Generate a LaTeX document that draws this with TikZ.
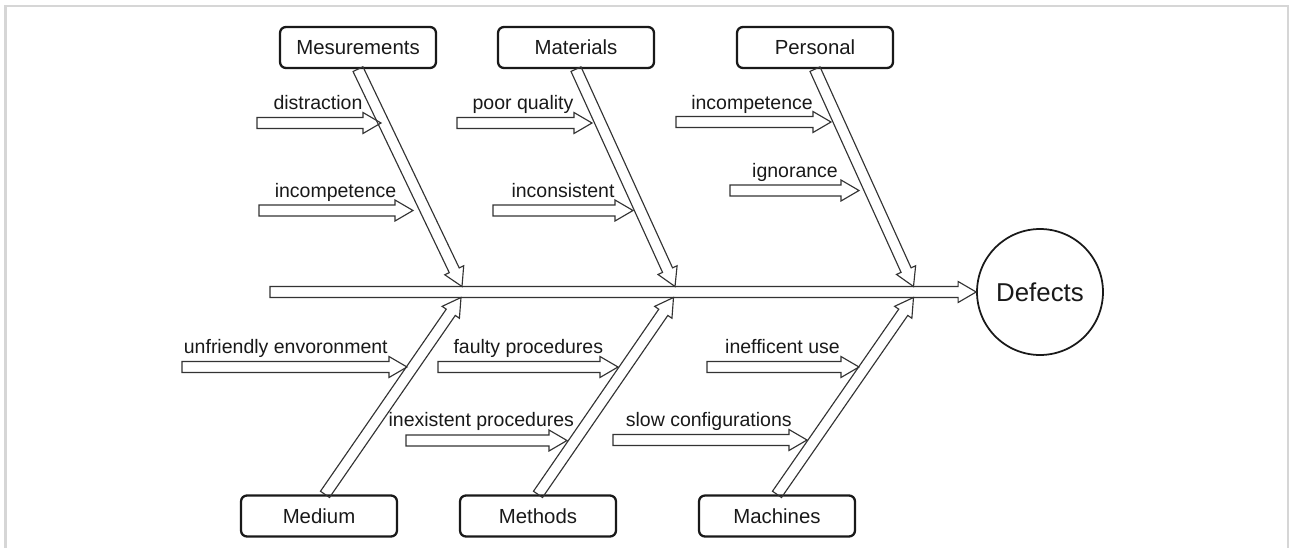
\documentclass[tikz,border=0pt]{standalone}
\usepackage{fontspec}
\setmainfont{Liberation Sans}
\usetikzlibrary{calc}
\newcommand{\shafthalf}{0.11cm}
\newcommand{\headhalf}{0.21cm}
\newcommand{\headlen}{0.36cm}
\newcommand{\hollowarrow}[2]{%
    \path (#1) coordinate (ha) (#2) coordinate (hb);
    \path ($(hb)!\headlen!(ha)$) coordinate (hc);
    \draw[outline] ($(ha)!\shafthalf!90:(hb)$) -- ($(hc)!\shafthalf!90:(hb)$)
        -- ($(hc)!\headhalf!90:(hb)$) -- (hb) -- ($(hc)!\headhalf!-90:(hb)$)
        -- ($(hc)!\shafthalf!-90:(hb)$) -- ($(ha)!\shafthalf!-90:(hb)$) -- cycle;
}
\tikzset{
    box/.style={ draw=black!90, line width=1.3pt, rounded corners=0.12cm,
        minimum width=3.12cm, minimum height=0.82cm, text=black!90,
        font=\fontsize{11.6}{14}\selectfont },
    lbl/.style={ inner sep=0pt, anchor=base, text=black!90,
        font=\fontsize{11.1}{13}\selectfont },
    outline/.style={ draw=black!80, line width=0.65pt, line join=miter },
    effect/.style={ circle, draw=black!90, line width=1pt, minimum size=2.52cm,
        inner sep=0pt, text=black!90, font=\fontsize{14.7}{17}\selectfont },
    frame/.style={ draw=black!16, line width=0.05cm }
}

\begin{document}
\begin{tikzpicture}[x=0.02cm, y=-0.02cm]
        \useasboundingbox (0,0) rectangle (1289,548);
        \draw[frame] (5.3,548) -- (5.3,6) -- (1287.8,6) -- (1287.8,548);

        % causes and effect
        \node[box] (mes) at (358,47.5) {Mesurements};
        \node[box] (mat) at (576,47.5) {Materials};
        \node[box] (per) at (815,47.5) {Personal};
        \node[box] (med) at (319,516) {Medium};
        \node[box] (met) at (538,516) {Methods};
        \node[box] (mac) at (777,516) {Machines};
        \node[effect] (def) at (1040,292) {Defects};

        % spine and bones
        \coordinate (tail) at (270,292);
        \coordinate (mesend) at (462,286.5);
        \coordinate (matend) at (675,286.5);
        \coordinate (perend) at (913.5,286.5);
        \coordinate (medend) at (461,297.5);
        \coordinate (metend) at (673.5,297.5);
        \coordinate (macend) at (913.5,297.5);
        \hollowarrow{tail}{def.west}
        \hollowarrow{mes.south}{mesend}
        \hollowarrow{mat.south}{matend}
        \hollowarrow{per.south}{perend}
        \hollowarrow{[xshift=0.12cm]med.north}{medend}
        \hollowarrow{met.north}{metend}
        \hollowarrow{mac.north}{macend}

        % sub causes
        \node[lbl] (distr) at (318,109.5) {distraction};
        \coordinate (distrS) at (257,123);
        \coordinate (distrE) at (381,123);
        \hollowarrow{distrS}{distrE}

        \node[lbl] (incomp) at (335.5,197) {incompetence};
        \coordinate (incompS) at (259,210.5);
        \coordinate (incompE) at (413,210.5);
        \hollowarrow{incompS}{incompE}

        \node[lbl] (poor) at (523,109.5) {poor quality};
        \coordinate (poorS) at (457,123);
        \coordinate (poorE) at (592,123);
        \hollowarrow{poorS}{poorE}

        \node[lbl] (incons) at (563,197) {inconsistent};
        \coordinate (inconsS) at (493,210.5);
        \coordinate (inconsE) at (633,210.5);
        \hollowarrow{inconsS}{inconsE}

        \node[lbl] (incompb) at (752,109.5) {incompetence};
        \coordinate (incompbS) at (676,122);
        \coordinate (incompbE) at (831,122);
        \hollowarrow{incompbS}{incompbE}

        \node[lbl] (ignor) at (795,177) {ignorance};
        \coordinate (ignorS) at (730,190.5);
        \coordinate (ignorE) at (859,190.5);
        \hollowarrow{ignorS}{ignorE}

        \node[lbl] (unfr) at (285.8,353) {unfriendly envoronment};
        \coordinate (unfrS) at (182,367);
        \coordinate (unfrE) at (407,367);
        \hollowarrow{unfrS}{unfrE}

        \node[lbl] (faulty) at (528.3,353) {faulty procedures};
        \coordinate (faultyS) at (438,367);
        \coordinate (faultyE) at (618,367);
        \hollowarrow{faultyS}{faultyE}

        \node[lbl] (ineff) at (782.5,353) {inefficent use};
        \coordinate (ineffS) at (707,367);
        \coordinate (ineffE) at (859,367);
        \hollowarrow{ineffS}{ineffE}

        \node[lbl] (inex) at (481.3,426.5) {inexistent procedures};
        \coordinate (inexS) at (406,440.5);
        \coordinate (inexE) at (567,440.5);
        \hollowarrow{inexS}{inexE}

        \node[lbl] (slow) at (708.8,426.5) {slow configurations};
        \coordinate (slowS) at (613,440);
        \coordinate (slowE) at (807,440);
        \hollowarrow{slowS}{slowE}
\end{tikzpicture}
\end{document}
